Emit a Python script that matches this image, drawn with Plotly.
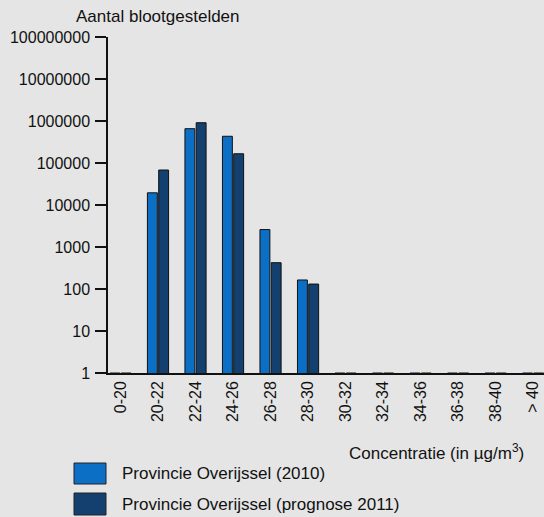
import plotly.graph_objects as go

categories = ["0-20", "20-22", "22-24", "24-26", "26-28", "28-30",
              "30-32", "32-34", "34-36", "36-38", "38-40", "> 40"]
series_2010 = [1, 19500, 656000, 433000, 2600, 164, 1, 1, 1, 1, 1, 1]
series_2011 = [1, 68000, 910000, 166000, 423, 131, 1, 1, 1, 1, 1, 1]
name_2010 = "Provincie Overijssel (2010)"
name_2011 = "Provincie Overijssel (prognose 2011)"
y_tickvals = [1, 10, 100, 1000, 10000, 100000, 1000000, 10000000, 100000000]
y_ticktext = [str(v) for v in y_tickvals]

C1 = "#0b6fc6"
C2 = "#13406f"
BG = "#e5e5e5"
FONT = "Liberation Sans, Arial, sans-serif"

fig = go.Figure()
fig.add_trace(go.Bar(x=categories, y=series_2010, name=name_2010,
                     marker=dict(color=C1, line=dict(color="#111111", width=1))))
fig.add_trace(go.Bar(x=categories, y=series_2011, name=name_2011,
                     marker=dict(color=C2, line=dict(color="#111111", width=1))))

W, H = 544, 517
L, R, T, B = 108, 0, 37, 144

fig.update_layout(
    width=W, height=H,
    margin=dict(l=L, r=R, t=T, b=B, pad=0),
    paper_bgcolor=BG, plot_bgcolor=BG,
    font=dict(family=FONT, size=16, color="#111111"),
    barmode="group", bargap=0.4, bargroupgap=0.12,
    showlegend=False,
    xaxis=dict(type="category", range=[-0.333, 11.29], showline=True,
               linecolor="#111111", linewidth=1.5, ticks="", showgrid=False,
               tickangle=-90, tickfont=dict(size=16), zeroline=False),
    yaxis=dict(type="log", range=[0, 8], showline=True, linecolor="#111111",
               linewidth=1.5, ticks="outside", ticklen=11, tickcolor="#111111",
               tickwidth=1.5, showgrid=False, tickvals=y_tickvals,
               ticktext=y_ticktext, tickfont=dict(size=16), zeroline=False,
               ticklabelstandoff=2),
)

pw, ph = W - L - R, H - T - B
def px(xp):
    return (xp - L) / pw
def py(yp):
    return (H - B - yp) / ph

# axis titles as annotations
fig.add_annotation(text="Aantal blootgestelden", xref="paper", yref="paper",
                   x=px(74), y=py(17), xanchor="left", yanchor="middle",
                   showarrow=False, font=dict(size=17))
fig.add_annotation(text="Concentratie (in µg/m<sup>3</sup>)", xref="paper", yref="paper",
                   x=px(526), y=py(452), xanchor="right", yanchor="middle",
                   showarrow=False, font=dict(size=17))

# legend drawn manually
for (y0, y1, col, name) in [(463, 484, C1, name_2010), (493, 515, C2, name_2011)]:
    fig.add_shape(type="rect", xref="paper", yref="paper",
                  x0=px(74), x1=px(106), y0=py(y1), y1=py(y0),
                  fillcolor=col, line=dict(color="#222222", width=1))
    fig.add_annotation(text=name, xref="paper", yref="paper",
                       x=px(120), y=py((y0 + y1) / 2), xanchor="left",
                       yanchor="middle", showarrow=False, font=dict(size=17))

fig.write_html(
    "out.html",
    config={"displayModeBar": False},
    post_script="document.body.style.margin='0';document.body.style.overflow='hidden';",
)
